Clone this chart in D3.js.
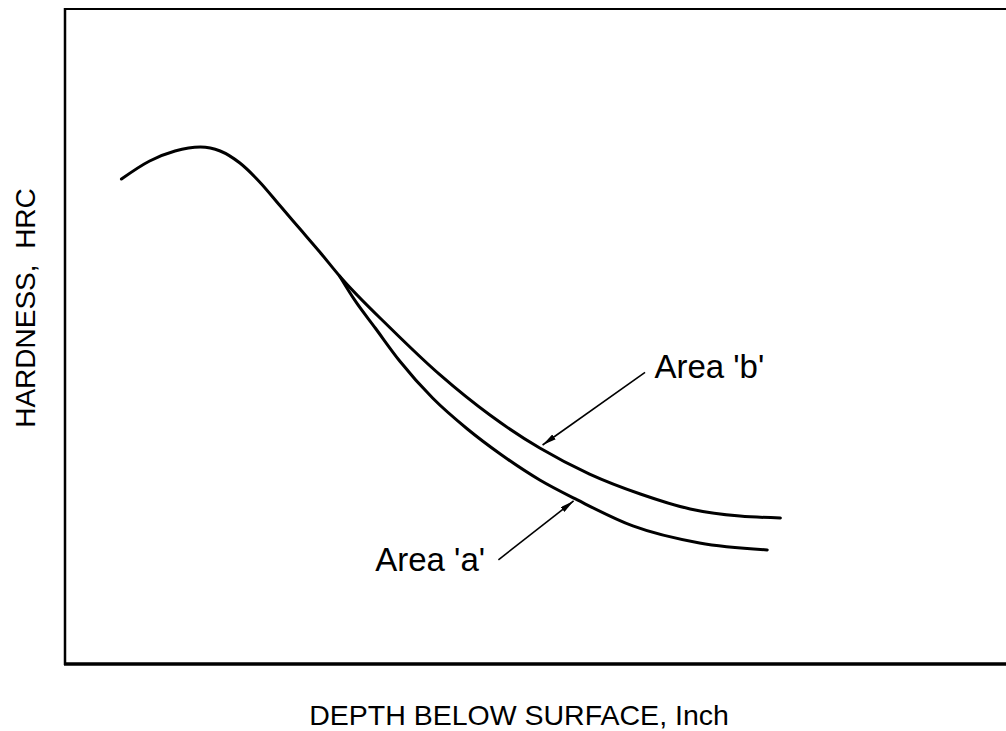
<!DOCTYPE html>
<html>
<head>
<meta charset="utf-8">
<script src="https://cdn.jsdelivr.net/npm/d3@7"></script>
<style>
  html, body { margin: 0; padding: 0; background: #fff; }
  svg { display: block; }
  text { font-family: "Liberation Sans", Arial, Helvetica, sans-serif; fill: #000; }
</style>
</head>
<body>
<svg id="chart" width="1006" height="731"></svg>
<script>
// Hardness traverse: shared surface portion, then two branches
const depthCommon    = [0.059, 0.089, 0.116, 0.143, 0.164, 0.185, 0.206, 0.228, 0.249, 0.270, 0.291];
const hardnessCommon = [53.30, 54.54, 55.23, 55.50, 55.23, 54.40, 53.10, 51.44, 49.86, 48.28, 46.63];

// Branch 'b' (upper), continuing from the shared portion
const depthB    = [0.345, 0.398, 0.451, 0.504, 0.557, 0.611, 0.664, 0.717, 0.760];
const hardnessB = [43.05, 39.82, 37.06, 34.79, 33.00, 31.63, 30.60, 30.11, 29.98];

// Branch 'a' (lower), starting at the split point
const depthA    = [0.291, 0.307, 0.329, 0.355, 0.390, 0.427, 0.462, 0.504, 0.544, 0.603, 0.674, 0.746];
const hardnessA = [46.63, 44.98, 43.05, 40.78, 38.23, 36.10, 34.38, 32.59, 31.22, 29.43, 28.26, 27.78];

// Callouts: label position and arrow (from -> tip)
const calloutText   = ["Area 'b'", "Area 'a'"];
const calloutLabel  = [[0.626, 39.6], [0.329, 26.3]];
const calloutFrom   = [[0.616, 40.0], [0.460, 27.1]];
const calloutTip    = [[0.507, 35.0], [0.540, 31.15]];

const xTitle = "DEPTH BELOW SURFACE, Inch";
const yTitle = "HARDNESS,  HRC";

const svg = d3.select("#chart");

const x = d3.scaleLinear().domain([0, 1]).range([66, 1006]);
const y = d3.scaleLinear().domain([20, 65]).range([663, 9]);

// Arrowhead marker
svg.append("defs").append("marker")
  .attr("id", "arrow")
  .attr("viewBox", "0 0 14 6")
  .attr("refX", 14).attr("refY", 3)
  .attr("markerWidth", 14).attr("markerHeight", 6)
  .attr("markerUnits", "userSpaceOnUse")
  .attr("orient", "auto")
  .append("path")
  .attr("d", "M0,0 L14,3 L0,6 Z")
  .attr("fill", "#000");

// Frame: top, left and heavier bottom rule
const frame = svg.append("g").attr("stroke", "#000").attr("fill", "none");
frame.append("line").attr("x1", x(0) - 1).attr("x2", 1006).attr("y1", y(65)).attr("y2", y(65)).attr("stroke-width", 2);
frame.append("line").attr("x1", x(0) - 1).attr("x2", x(0) - 1).attr("y1", y(65) - 1).attr("y2", y(20) + 2).attr("stroke-width", 2.5);
frame.append("line").attr("x1", x(0) - 2).attr("x2", 1006).attr("y1", y(20) + 1).attr("y2", y(20) + 1).attr("stroke-width", 3.5);

// Curves
const line = d3.line()
  .x(d => x(d[0]))
  .y(d => y(d[1]))
  .curve(d3.curveMonotoneX);

const zip = (a, b) => a.map((v, i) => [v, b[i]]);

const curves = [
  zip(depthCommon.concat(depthB), hardnessCommon.concat(hardnessB)),
  zip(depthA, hardnessA)
];

svg.append("g").selectAll("path")
  .data(curves)
  .join("path")
  .attr("d", line)
  .attr("fill", "none")
  .attr("stroke", "#000")
  .attr("stroke-width", 3)
  .attr("stroke-linecap", "round")
  .attr("stroke-linejoin", "round");

// Callout arrows and labels
const callouts = calloutText.map((t, i) => ({
  text: t, label: calloutLabel[i], from: calloutFrom[i], tip: calloutTip[i]
}));

const cg = svg.append("g");
cg.selectAll("line")
  .data(callouts)
  .join("line")
  .attr("x1", d => x(d.from[0])).attr("y1", d => y(d.from[1]))
  .attr("x2", d => x(d.tip[0])).attr("y2", d => y(d.tip[1]))
  .attr("stroke", "#000")
  .attr("stroke-width", 1.6)
  .attr("marker-end", "url(#arrow)");

cg.selectAll("text")
  .data(callouts)
  .join("text")
  .attr("x", d => x(d.label[0])).attr("y", d => y(d.label[1]))
  .attr("font-size", 33)
  .text(d => d.text);

// Axis titles
svg.append("text")
  .attr("x", 519).attr("y", 725)
  .attr("text-anchor", "middle")
  .attr("font-size", 28.5)
  .text(xTitle);

svg.append("text")
  .attr("transform", "translate(35,308) rotate(-90)")
  .attr("text-anchor", "middle")
  .attr("font-size", 28)
  .style("white-space", "pre")
  .text(yTitle);
</script>
</body>
</html>
